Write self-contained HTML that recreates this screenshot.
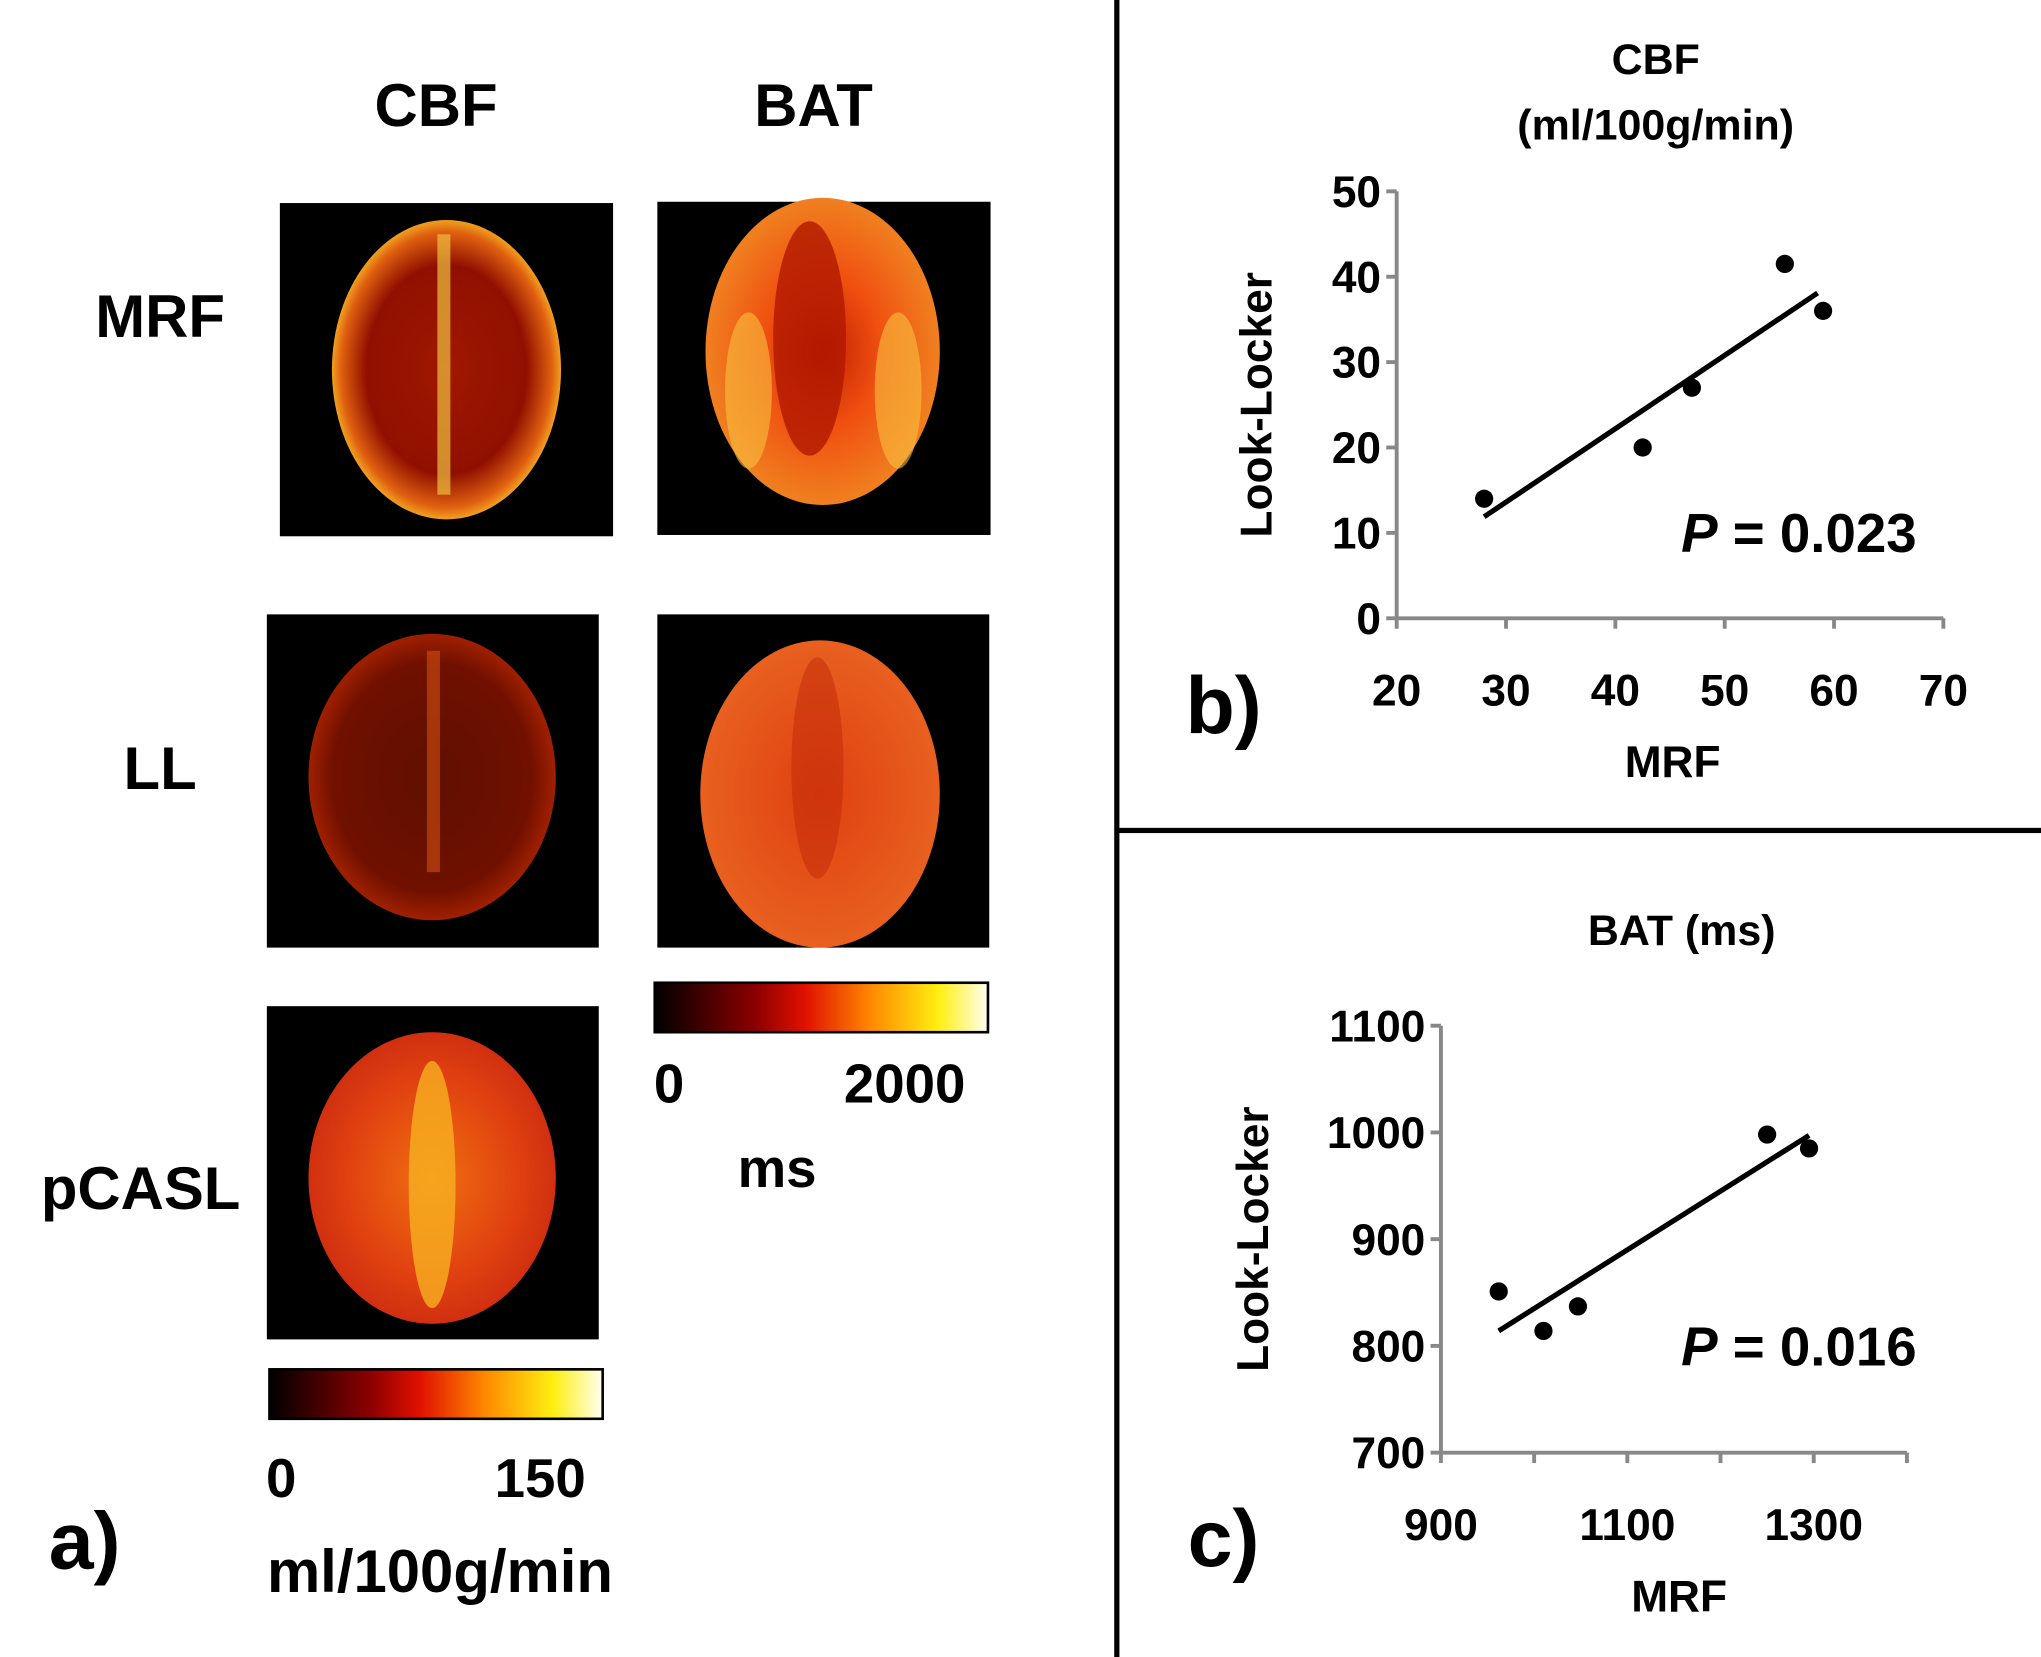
<!DOCTYPE html>
<html><head><meta charset="utf-8"><style>
html,body{margin:0;padding:0;background:#fff;}
svg{display:block;}
text{font-family:"Liberation Sans","DejaVu Sans",sans-serif;font-weight:bold;fill:#000;}
</style></head><body>
<svg id="fig" width="2041" height="1657" viewBox="0 0 1568 1273" xmlns="http://www.w3.org/2000/svg">
<defs>
<linearGradient id="hot" x1="0" x2="1" y1="0" y2="0">
<stop offset="0" stop-color="#000"/><stop offset="0.3" stop-color="#8a0000"/><stop offset="0.45" stop-color="#e01000"/>
<stop offset="0.65" stop-color="#ff8a00"/><stop offset="0.85" stop-color="#ffee10"/><stop offset="1" stop-color="#fffff0"/>
</linearGradient>
<radialGradient id="g1"><stop offset="0" stop-color="#a01800"/><stop offset="0.7" stop-color="#901000"/><stop offset="0.92" stop-color="#e06010"/><stop offset="1" stop-color="#f0a020"/></radialGradient>
<radialGradient id="g2"><stop offset="0" stop-color="#c02000"/><stop offset="0.5" stop-color="#f05010"/><stop offset="1" stop-color="#f08020"/></radialGradient>
<radialGradient id="g3"><stop offset="0" stop-color="#601000"/><stop offset="0.8" stop-color="#701000"/><stop offset="1" stop-color="#a02000"/></radialGradient>
<radialGradient id="g4"><stop offset="0" stop-color="#e04010"/><stop offset="1" stop-color="#e86020"/></radialGradient>
<radialGradient id="g5"><stop offset="0" stop-color="#f07010"/><stop offset="0.7" stop-color="#e04010"/><stop offset="1" stop-color="#d03010"/></radialGradient>
</defs>

<g>
<text x="335" y="97" font-size="46" text-anchor="middle">CBF</text>
<text x="625" y="97" font-size="46" text-anchor="middle">BAT</text>
<text x="123" y="259" font-size="46" text-anchor="middle">MRF</text>
<text x="123" y="606" font-size="46" text-anchor="middle">LL</text>
<text x="108" y="929" font-size="46" text-anchor="middle">pCASL</text>

<g><rect x="215" y="156" width="256" height="256" fill="#000"/><ellipse cx="343" cy="284" rx="88" ry="115" fill="url(#g1)"/><rect x="336" y="180" width="10" height="200" fill="#f0c040" opacity="0.7"/></g>
<g><rect x="505" y="155" width="256" height="256" fill="#000"/><ellipse cx="632" cy="270" rx="90" ry="118" fill="url(#g2)"/><ellipse cx="622" cy="260" rx="28" ry="90" fill="#b01800" opacity="0.8"/><ellipse cx="690" cy="300" rx="18" ry="60" fill="#f8c040" opacity="0.6"/><ellipse cx="575" cy="300" rx="18" ry="60" fill="#f8c040" opacity="0.6"/></g>
<g><rect x="205" y="472" width="255" height="256" fill="#000"/><ellipse cx="332" cy="597" rx="95" ry="110" fill="url(#g3)"/><rect x="328" y="500" width="10" height="170" fill="#d05010" opacity="0.6"/></g>
<g><rect x="505" y="472" width="255" height="256" fill="#000"/><ellipse cx="630" cy="610" rx="92" ry="118" fill="url(#g4)"/><ellipse cx="628" cy="590" rx="20" ry="85" fill="#c02808" opacity="0.5"/></g>
<g><rect x="205" y="773" width="255" height="256" fill="#000"/><ellipse cx="332" cy="905" rx="95" ry="112" fill="url(#g5)"/><ellipse cx="332" cy="910" rx="18" ry="95" fill="#f8b020" opacity="0.8"/></g>

<rect x="503" y="755" width="256" height="38" fill="url(#hot)" stroke="#000" stroke-width="2"/>
<text x="514" y="847" font-size="42" text-anchor="middle">0</text>
<text x="695" y="847" font-size="42" text-anchor="middle">2000</text>
<text x="597" y="912" font-size="42" text-anchor="middle">ms</text>

<rect x="207" y="1052" width="256" height="38" fill="url(#hot)" stroke="#000" stroke-width="2"/>
<text x="216" y="1150" font-size="42" text-anchor="middle">0</text>
<text x="415" y="1150" font-size="42" text-anchor="middle">150</text>
<text x="338" y="1223" font-size="46" text-anchor="middle">ml/100g/min</text>
<text x="65" y="1205" font-size="62" text-anchor="middle">a)</text>
</g>

<rect x="856" y="0" width="4" height="1273" fill="#000"/>
<rect x="858" y="636" width="710" height="4" fill="#000"/>

<g id="chartB">
<text x="1272" y="57" font-size="33" text-anchor="middle">CBF</text>
<text x="1272" y="107" font-size="33" text-anchor="middle">(ml/100g/min)</text>
<text transform="translate(977,311) rotate(-90)" font-size="34" text-anchor="middle">Look-Locker</text>
<text x="1285" y="597" font-size="34" text-anchor="middle">MRF</text>
<text x="940" y="563" font-size="62" text-anchor="middle">b)</text>
<text x="1382" y="424" font-size="42" text-anchor="middle"><tspan font-style="italic">P</tspan> = 0.023</text>
</g>
<g id="chartC">
<text x="1292" y="726" font-size="33" text-anchor="middle">BAT (ms)</text>
<text transform="translate(974,952) rotate(-90)" font-size="34" text-anchor="middle">Look-Locker</text>
<text x="1290" y="1238" font-size="34" text-anchor="middle">MRF</text>
<text x="940" y="1203" font-size="62" text-anchor="middle">c)</text>
<text x="1382" y="1049" font-size="42" text-anchor="middle"><tspan font-style="italic">P</tspan> = 0.016</text>
</g>
</svg>
<script>
const cbfX = [28, 42.5, 47, 55.5, 59];
const cbfY = [14, 20, 27, 41.5, 36];
const cbfXTicks = [20, 30, 40, 50, 60, 70];
const cbfYTicks = [0, 10, 20, 30, 40, 50];
const batX = [962, 1010, 1047, 1250, 1295];
const batY = [851, 814, 837, 998, 985];
const batXTicks = [900, 1100, 1300];
const batXTickMarks = [900, 1000, 1100, 1200, 1300, 1400];
const batYTicks = [700, 800, 900, 1000, 1100];

const NS = 'http://www.w3.org/2000/svg';
function mk(tag, attrs, parent){const e=document.createElementNS(NS,tag);for(const k in attrs)e.setAttribute(k,attrs[k]);parent.appendChild(e);return e;}
function fit(xs, ys){const n=xs.length;const mx=xs.reduce((a,b)=>a+b)/n,my=ys.reduce((a,b)=>a+b)/n;let sxy=0,sxx=0;for(let i=0;i<n;i++){sxy+=(xs[i]-mx)*(ys[i]-my);sxx+=(xs[i]-mx)**2;}const m=sxy/sxx;return [m,my-m*mx];}

function drawChart(g, xs, ys, xTickLabels, xTickMarks, yTicks, xr, yr, px, py, lineX){
  const sx=v=>px[0]+(v-xr[0])/(xr[1]-xr[0])*(px[1]-px[0]);
  const sy=v=>py[0]+(v-yr[0])/(yr[1]-yr[0])*(py[1]-py[0]);
  const ax=mk('line',{x1:px[0],x2:px[1],y1:py[0],y2:py[0],stroke:'#888','stroke-width':3},g);
  
  
  const ay=mk('line',{x1:px[0],x2:px[0],y1:py[0],y2:py[1],stroke:'#888','stroke-width':3},g);
  
  
  xTickMarks.forEach(v=>{const t=mk('line',{x1:sx(v),x2:sx(v),y1:py[0],y2:py[0]+8,stroke:'#888','stroke-width':3},g);
    
    });
  xTickLabels.forEach(v=>{const t=mk('text',{x:sx(v),y:py[0]+67,'font-size':34,'text-anchor':'middle'},g);t.textContent=v;
    
    });
  yTicks.forEach(v=>{const t=mk('line',{x1:px[0]-8,x2:px[0],y1:sy(v),y2:sy(v),stroke:'#888','stroke-width':3},g);
    
    
    const l=mk('text',{x:px[0]-12,y:sy(v)+12,'font-size':34,'text-anchor':'end'},g);l.textContent=v;
    
    });
  const [m,b]=fit(xs,ys);
  const ln=mk('line',{x1:sx(lineX[0]),y1:sy(m*lineX[0]+b),x2:sx(lineX[1]),y2:sy(m*lineX[1]+b),stroke:'#000','stroke-width':4},g);
  
  
  xs.forEach((x,i)=>{const c=mk('circle',{cx:sx(x),cy:sy(ys[i]),r:7,fill:'#000'},g);
    
    });
}
drawChart(document.getElementById('chartB'), cbfX, cbfY, cbfXTicks, cbfXTicks, cbfYTicks, [20,70],[0,50],[1073,1493],[475,147],[28,58.5]);
drawChart(document.getElementById('chartC'), batX, batY, batXTicks, batXTickMarks, batYTicks, [900,1400],[700,1100],[1107,1465],[1116,788],[962,1295]);
</script>
</body></html>
